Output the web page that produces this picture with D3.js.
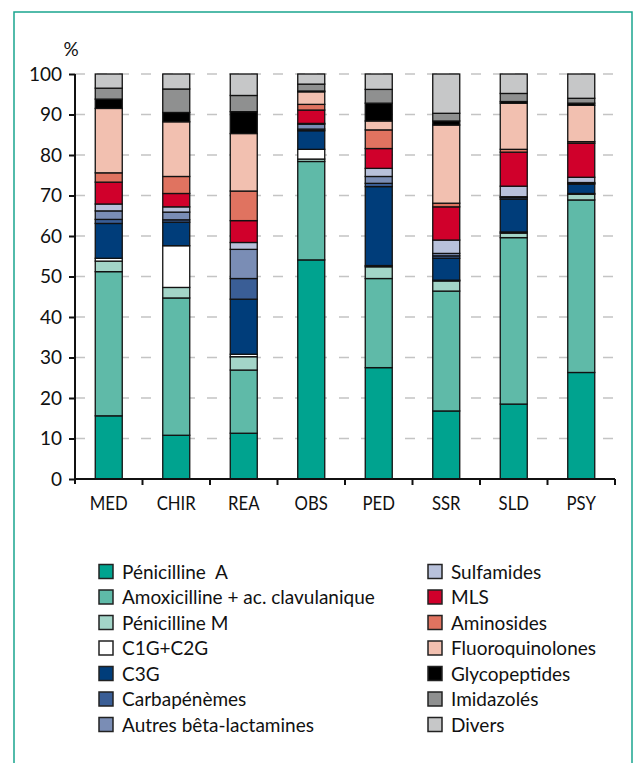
<!DOCTYPE html>
<html><head><meta charset="utf-8">
<script src="https://cdn.jsdelivr.net/npm/d3@7"></script>
<style>
html,body{margin:0;padding:0;background:#fff;}
svg{display:block;}
text{font-family:Lato,"Open Sans",sans-serif;fill:#111;}
</style></head><body>
<svg id="chart" width="640" height="763"></svg>
<script>
const categories = ["MED","CHIR","REA","OBS","PED","SSR","SLD","PSY"];
const seriesNames = ["Pénicilline  A","Amoxicilline + ac. clavulanique","Pénicilline M","C1G+C2G","C3G","Carbapénèmes","Autres bêta-lactamines","Sulfamides","MLS","Aminosides","Fluoroquinolones","Glycopeptides","Imidazolés","Divers"];
const seriesColors = ["#00a38f","#5fbaa8","#a3d5c8","#ffffff","#003d7a","#3a5e96","#7a8db5","#b8c1db","#d0002b","#e07360","#f2c0b0","#000000","#8f9090","#c6c7c8"];
const penA   = [15.6,10.8,11.3,54.1,27.5,16.8,18.5,26.3];
const amox   = [35.6,33.9,15.6,24.3,22.0,29.6,41.1,42.6];
const penM   = [2.6,2.6,3.3,0.6,2.9,2.5,1.1,1.4];
const c1g    = [0.7,10.3,0.6,2.4,0.3,0.2,0.3,0.2];
const c3g    = [8.6,5.8,13.6,4.6,19.5,5.4,8.1,2.3];
const carba  = [1.0,0.6,5.1,0.4,0.8,0.6,0.4,0.2];
const autres = [2.1,1.9,7.2,1.2,1.7,0.6,0.2,0.2];
const sulfa  = [1.7,1.3,1.7,0.2,2.0,3.3,2.6,1.3];
const mls    = [5.4,3.3,5.4,3.3,4.9,8.2,8.4,8.4];
const amino  = [2.3,4.2,7.3,1.4,4.6,0.9,0.7,0.4];
const fluoro = [15.9,13.5,14.2,3.1,2.2,19.3,11.4,9.0];
const glyco  = [2.3,2.3,5.4,0.2,4.4,1.0,0.4,0.5];
const imid   = [2.7,5.8,4.0,1.7,3.4,1.9,2.0,1.2];
const divers = [3.5,3.7,5.3,2.5,3.8,9.7,4.8,6.0];
const yTicks = [0,10,20,30,40,50,60,70,80,90,100];

const seriesValues = [penA,amox,penM,c1g,c3g,carba,autres,sulfa,mls,amino,fluoro,glyco,imid,divers];
const table = categories.map((c,i)=>{
  const row = {cat:c};
  seriesNames.forEach((s,j)=>row[s]=seriesValues[j][i]);
  return row;
});

const svg = d3.select("#chart");
// frame
svg.append("rect").attr("x",14).attr("y",12).attr("width",618).attr("height",780)
  .attr("fill","none").attr("stroke","#1aa58f").attr("stroke-width",1.5);

const x = d3.scaleBand().domain(categories).range([75,615]).paddingInner(0.6).paddingOuter(0.3);
const xb = d3.scaleBand().domain(categories).range([75,615]);
const y = d3.scaleLinear().domain([0,100]).range([479,74]);

// grid
svg.append("g").selectAll("line").data(yTicks.filter(t=>t>0)).join("line")
  .attr("x1",75).attr("x2",615).attr("y1",d=>y(d)).attr("y2",d=>y(d))
  .attr("stroke","#c4c4c4").attr("stroke-width",1.5).attr("stroke-dasharray","10,12");

const stack = d3.stack().keys(seriesNames);
const stacked = stack(table);
const g = svg.append("g");
stacked.forEach((layer,j)=>{
  g.append("g").selectAll("rect").data(layer).join("rect")
    .attr("x",d=>x(d.data.cat)).attr("width",x.bandwidth())
    .attr("y",d=>y(d[1])).attr("height",d=>Math.max(0,y(d[0])-y(d[1])))
    .attr("fill",seriesColors[j]).attr("stroke","#111").attr("stroke-width",1.3);
});

// y axis
const yAxis = svg.append("g").attr("transform","translate(75,0)")
  .call(d3.axisLeft(y).tickValues(yTicks).tickSize(6).tickPadding(7).tickSizeOuter(0));
yAxis.select(".domain").attr("stroke","#111").attr("stroke-width",2).attr("d","M0,74V484");
yAxis.selectAll(".tick line").attr("stroke","#111").attr("stroke-width",2);
yAxis.selectAll(".tick text").attr("font-size",19).attr("font-family","Lato").attr("fill","#111");

// x axis
const xAxisG = svg.append("g").attr("transform","translate(0,479)");
xAxisG.append("line").attr("x1",75).attr("x2",615).attr("y1",0).attr("y2",0).attr("stroke","#111").attr("stroke-width",2);
const bounds = categories.map(c=>xb(c)+xb.bandwidth());
xAxisG.selectAll("line.tk").data(bounds).join("line").attr("class","tk")
  .attr("x1",d=>d).attr("x2",d=>d).attr("y1",0).attr("y2",6).attr("stroke","#111").attr("stroke-width",2);
const catLabels = xAxisG.selectAll("text").data(categories).join("text")
  .attr("x",d=>xb(d)+xb.bandwidth()/2).attr("y",31).attr("text-anchor","middle")
  .attr("font-size",19).text(d=>d);

svg.append("text").attr("x",71).attr("y",56).attr("text-anchor","middle").attr("font-size",19).text("%");

// legend
const leg = svg.append("g");
seriesNames.forEach((s,j)=>{
  const col = j<7?0:1, row = j%7;
  const lx = col===0?99:428, ly = 571.5 + row*25.5;
  leg.append("rect").attr("x",lx).attr("y",ly-7).attr("width",14).attr("height",14)
    .attr("fill",seriesColors[j]).attr("stroke","#222").attr("stroke-width",1.5);
  leg.append("text").attr("x",lx+23).attr("y",ly+7).attr("font-size",19)
    .attr("xml:space","preserve").style("white-space","pre").text(s);
});
// slightly condense the category labels (condensed face in the original)
catLabels.each(function(){
  const w = this.getComputedTextLength();
  if(w>0){ d3.select(this).attr("textLength",w*0.88).attr("lengthAdjust","spacingAndGlyphs"); }
});
</script></body></html>
